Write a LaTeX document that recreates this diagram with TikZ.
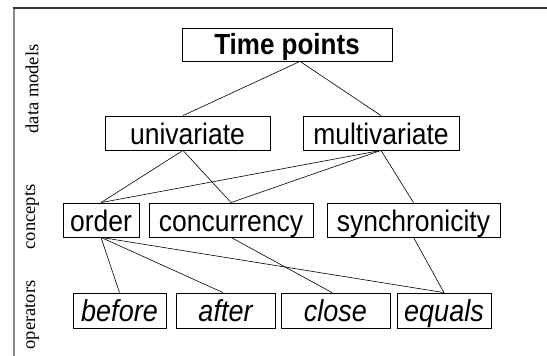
\documentclass[tikz,border=0pt]{standalone}
\usepackage{fontspec}
\usepackage{graphicx}
\setmainfont{Liberation Sans}
\newfontfamily\sidefont{Liberation Serif}
\newcommand{\tallt}[1]{\scalebox{1}[1.12]{#1}}
\begin{document}
\begin{tikzpicture}[x=1pt,y=1pt,
  box/.style={draw, line width=0.8pt, inner sep=0pt, anchor=center},
  row1/.style={box, text height=26pt, text depth=7pt, font=\bfseries\fontsize{26}{30}\selectfont},
  row2/.style={box, text height=28pt, text depth=6pt, font=\fontsize{26.5}{30}\selectfont},
  row3/.style={box, text height=28pt, text depth=6pt, font=\fontsize{26.5}{30}\selectfont},
  row4/.style={box, text height=28pt, text depth=7pt, font=\itshape\fontsize{27}{30}\selectfont},
  side/.style={rotate=90, font=\sidefont\fontsize{18.5}{20}\selectfont, inner sep=0pt},
  link/.style={line width=0.6pt}]
\useasboundingbox (0,0) rectangle (547,-356);
% frame
\draw[line width=2pt, gray!90] (13.5,-8) -- (13.5,-356);
\draw[line width=1.3pt, black!80] (12.5,-8) -- (547,-8);
% side labels
\node[side] (lab1) at (32,-89) {data models};
\node[side] (lab2) at (32,-217) {concepts};
\node[side] (lab3) at (32,-315) {operators};
% nodes
\node[row1, minimum width=210pt] (tp) at (287,-44.5) {\tallt{Time points}};
\node[row2, minimum width=165pt] (uni) at (187.5,-133) {\tallt{univariate}};
\node[row2, minimum width=156pt] (multi) at (381,-133) {\tallt{multivariate}};
\node[row3, minimum width=76pt] (order) at (101,-220) {\tallt{order}};
\node[row3, minimum width=164pt] (conc) at (231,-220) {\tallt{concurrency}};
\node[row3, minimum width=173pt] (sync) at (413.5,-220) {\tallt{synchronicity}};
\node[row4, minimum width=93pt] (before) at (119.5,-310.5) {\tallt{before}};
\node[row4, minimum width=99pt] (after) at (225.5,-310.5) {\tallt{after}};
\node[row4, minimum width=109pt] (close) at (335.5,-310.5) {\tallt{close}};
\node[row4, minimum width=94pt] (equals) at (444,-310.5) {\tallt{equals}};
% links
\draw[link] ([xshift=13pt]tp.south) -- ([xshift=-4.5pt]uni.north);
\draw[link] ([xshift=13pt]tp.south) -- (multi.north);
\draw[link] ([xshift=-4.5pt]uni.south) -- (order.north);
\draw[link] ([xshift=-4.5pt]uni.south) -- (conc.north);
\draw[link] (multi.south) -- (order.north);
\draw[link] (multi.south) -- (conc.north);
\draw[link] (multi.south) -- (sync.north);
\draw[link] (order.south) -- (before.north);
\draw[link] (order.south) -- ([xshift=-2.5pt]after.north);
\draw[link] (order.south) -- (equals.north);
\draw[link] (conc.south) -- ([xshift=-3.5pt]close.north);
\draw[link] (sync.south) -- (equals.north);
\end{tikzpicture}
\end{document}
